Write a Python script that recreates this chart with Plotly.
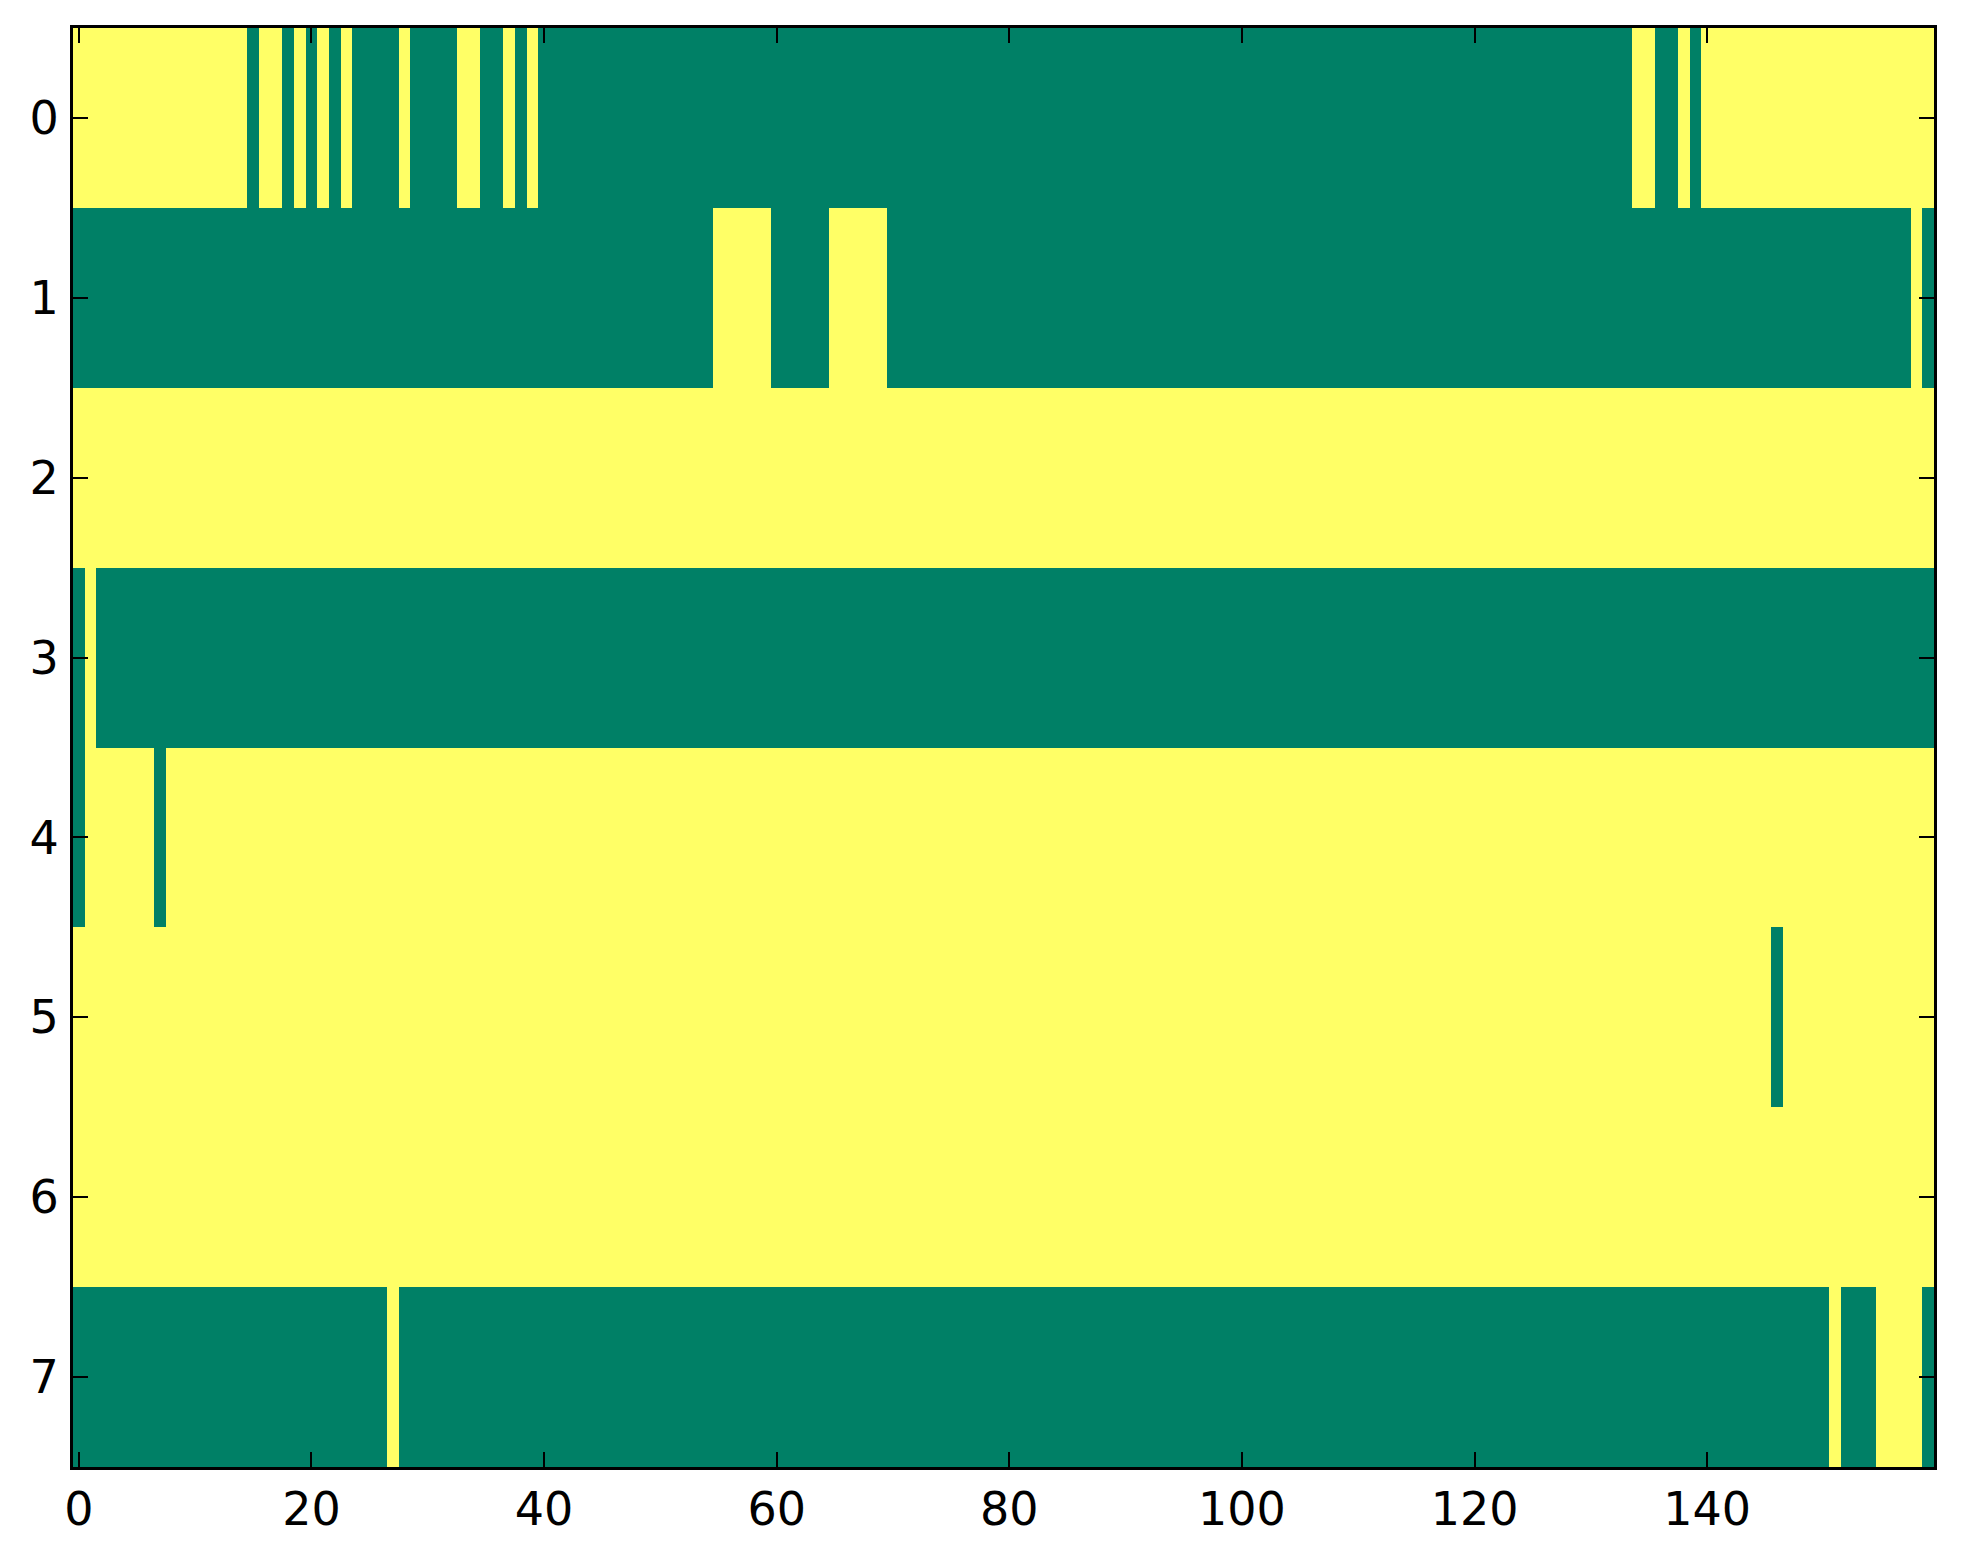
import plotly.graph_objects as go

# Binary matrix (8 rows x 160 columns), stored as run-length (value, count) per row.
# 1 = yellow (high end of "summer" colormap), 0 = green (low end).
row0_runs = [(1, 15), (0, 1), (1, 2), (0, 1), (1, 1), (0, 1), (1, 1), (0, 1), (1, 1),
             (0, 4), (1, 1), (0, 4), (1, 2), (0, 2), (1, 1), (0, 1), (1, 1), (0, 94),
             (1, 2), (0, 2), (1, 1), (0, 1), (1, 20)]
row1_runs = [(0, 55), (1, 5), (0, 5), (1, 5), (0, 88), (1, 1), (0, 1)]
row2_runs = [(1, 160)]
row3_runs = [(0, 1), (1, 1), (0, 158)]
row4_runs = [(0, 1), (1, 6), (0, 1), (1, 152)]
row5_runs = [(1, 146), (0, 1), (1, 13)]
row6_runs = [(1, 160)]
row7_runs = [(0, 27), (1, 1), (0, 123), (1, 1), (0, 3), (1, 4), (0, 1)]

row_runs = [row0_runs, row1_runs, row2_runs, row3_runs,
            row4_runs, row5_runs, row6_runs, row7_runs]

x_ticks = [0, 20, 40, 60, 80, 100, 120, 140]
y_ticks = [0, 1, 2, 3, 4, 5, 6, 7]

GREEN = "rgb(0,128,102)"
YELLOW = "rgb(255,255,102)"


def expand(runs):
    out = []
    for v, n in runs:
        out.extend([v] * n)
    assert len(out) == 160, len(out)
    return out


z = [expand(r) for r in row_runs]
n_cols = len(z[0])
n_rows = len(z)

fig = go.Figure(go.Heatmap(
    z=z,
    x=list(range(n_cols)),
    y=list(range(n_rows)),
    colorscale=[[0, GREEN], [1, YELLOW]],
    zmin=0, zmax=1,
    showscale=False,
    hoverinfo="skip",
))

axis_common = dict(
    showline=True, linecolor="black", linewidth=3, mirror="ticks",
    ticks="inside", ticklen=15, tickwidth=2, tickcolor="black",
    showgrid=False, zeroline=False,
    tickfont=dict(family="DejaVu Sans", size=46, color="black"),
)

fig.update_xaxes(range=[-0.5, n_cols - 0.5], tickvals=x_ticks,
                 ticktext=[str(t) for t in x_ticks], ticklabelstandoff=0,
                 **axis_common)
fig.update_yaxes(range=[n_rows - 0.5, -0.5], tickvals=y_ticks,
                 ticktext=[str(t) for t in y_ticks], ticklabelstandoff=2,
                 **axis_common)

fig.update_layout(
    width=1963, height=1564,
    margin=dict(l=65, r=37, t=20, b=105, pad=0),
    paper_bgcolor="white", plot_bgcolor="white",
)

fig.write_html("out.html")
